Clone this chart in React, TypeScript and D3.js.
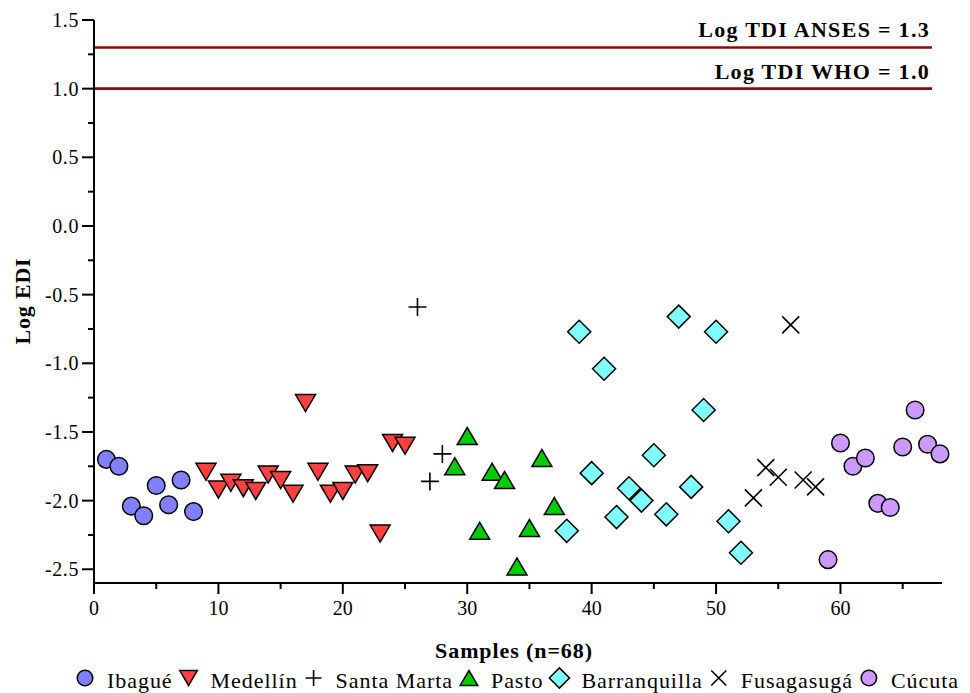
import React, { useEffect, useRef } from "react";
import * as d3 from "d3";

// Log EDI per sample, grouped by city (samples numbered 1..68 in order)
const ibague = [-1.7, -1.75, -2.04, -2.11, -1.89, -2.03, -1.85, -2.08];
const medellin = [
  -1.79, -1.92, -1.87, -1.91, -1.93, -1.81, -1.85, -1.95, -1.29, -1.79, -1.95,
  -1.93, -1.81, -1.8, -2.24, -1.58, -1.6,
];
const santaMarta = [-0.59, -1.86, -1.66];
const pasto = [-1.75, -1.53, -2.22, -1.79, -1.85, -2.48, -2.2, -1.69, -2.04];
const barranquilla = [
  -2.22, -0.77, -1.8, -1.04, -2.12, -1.91, -2.0, -1.67, -2.1, -0.66, -1.9,
  -1.34, -0.77, -2.15, -2.38,
];
const fusagasuga = [-1.98, -1.76, -1.83, -0.72, -1.85, -1.9];
const cucuta = [-2.43, -1.58, -1.75, -1.69, -2.02, -2.05, -1.61, -1.34, -1.59, -1.66];

const cities = ["Ibagué", "Medellín", "Santa Marta", "Pasto", "Barranquilla", "Fusagasugá", "Cúcuta"];
const cityValues = [ibague, medellin, santaMarta, pasto, barranquilla, fusagasuga, cucuta];
const cityColors = ["#8080ff", "#ff4040", "none", "#00cc00", "#80ffff", "none", "#cc99ff"];
const cityShapes = ["circle", "triDown", "plus", "triUp", "diamond", "cross", "circle"];

const xMajor = [0, 10, 20, 30, 40, 50, 60];
const xMinor = [5, 15, 25, 35, 45, 55, 65];
const yMajor = [-2.5, -2.0, -1.5, -1.0, -0.5, 0.0, 0.5, 1.0, 1.5];
const yMinor = [-2.25, -1.75, -1.25, -0.75, -0.25, 0.25, 0.75, 1.25];

const refLabels = ["Log TDI ANSES = 1.3", "Log TDI WHO = 1.0"];
const refValues = [1.3, 1.0];

const FONT = "'Liberation Serif', 'Times New Roman', serif";

// marker outline, centred on its bounding box; k scales it
function shapePath(kind, k) {
  const p = d3.path();
  if (kind === "circle") {
    p.arc(0, 0, 8.8 * k, 0, Math.PI * 2);
  } else if (kind === "triDown") {
    p.moveTo(-10 * k, -8.5 * k);
    p.lineTo(10 * k, -8.5 * k);
    p.lineTo(0, 8.5 * k);
    p.closePath();
  } else if (kind === "triUp") {
    p.moveTo(-10 * k, 8.5 * k);
    p.lineTo(10 * k, 8.5 * k);
    p.lineTo(0, -8.5 * k);
    p.closePath();
  } else if (kind === "diamond") {
    const r = 11.5 * k;
    p.moveTo(0, -r);
    p.lineTo(r, 0);
    p.lineTo(0, r);
    p.lineTo(-r, 0);
    p.closePath();
  } else if (kind === "plus") {
    const r = 9 * k;
    p.moveTo(-r, 0);
    p.lineTo(r, 0);
    p.moveTo(0, -r);
    p.lineTo(0, r);
  } else {
    const r = 8.5 * k;
    p.moveTo(-r, -r);
    p.lineTo(r, r);
    p.moveTo(-r, r);
    p.lineTo(r, -r);
  }
  return p.toString();
}

const App = () => {
  const svgRef = useRef(null);

  useEffect(() => {
    const svg = d3.select(svgRef.current);
    svg.selectAll("*").remove();

    const x = d3.scaleLinear().domain([0, 68]).range([94, 940]);
    const y = d3.scaleLinear().domain([-2.6, 1.5]).range([583, 20]);

    // reference lines
    refValues.forEach((v, i) => {
      svg
        .append("line")
        .attr("x1", x(0))
        .attr("x2", 932)
        .attr("y1", y(v))
        .attr("y2", y(v))
        .attr("stroke", "#8b0a0a")
        .attr("stroke-width", 2.6);
      svg
        .append("text")
        .attr("x", 930)
        .attr("y", y(v) - 10)
        .attr("text-anchor", "end")
        .attr("font-family", FONT)
        .attr("font-weight", "bold")
        .attr("font-size", 22)
        .attr("letter-spacing", 1.3)
        .text(refLabels[i]);
    });

    // axes
    const axes = svg.append("g").attr("stroke", "#000").attr("stroke-width", 2);
    axes.append("line").attr("x1", x(0)).attr("x2", 942).attr("y1", y(-2.6)).attr("y2", y(-2.6));
    axes.append("line").attr("x1", x(0)).attr("x2", x(0)).attr("y1", y(-2.6) + 1).attr("y2", y(1.5));
    xMajor.forEach((t) =>
      axes.append("line").attr("x1", x(t)).attr("x2", x(t)).attr("y1", y(-2.6)).attr("y2", y(-2.6) + 11)
    );
    xMinor.forEach((t) =>
      axes.append("line").attr("x1", x(t)).attr("x2", x(t)).attr("y1", y(-2.6)).attr("y2", y(-2.6) + 6)
    );
    yMajor.forEach((t) =>
      axes.append("line").attr("x1", x(0) - 12).attr("x2", x(0)).attr("y1", y(t)).attr("y2", y(t))
    );
    yMinor.forEach((t) =>
      axes.append("line").attr("x1", x(0) - 6).attr("x2", x(0)).attr("y1", y(t)).attr("y2", y(t))
    );

    svg
      .append("g")
      .selectAll("text")
      .data(xMajor)
      .join("text")
      .attr("x", (d) => x(d))
      .attr("y", 615)
      .attr("text-anchor", "middle")
      .attr("font-family", FONT)
      .attr("font-size", 20)
      .text((d) => d);

    svg
      .append("g")
      .selectAll("text")
      .data(yMajor)
      .join("text")
      .attr("x", x(0) - 15)
      .attr("y", (d) => y(d) + 7)
      .attr("text-anchor", "end")
      .attr("font-family", FONT)
      .attr("font-size", 20)
      .attr("letter-spacing", 0.6)
      .text((d) => d.toFixed(1));

    // axis titles
    svg
      .append("text")
      .attr("x", 514)
      .attr("y", 658)
      .attr("text-anchor", "middle")
      .attr("font-family", FONT)
      .attr("font-weight", "bold")
      .attr("font-size", 22)
      .attr("letter-spacing", 0.9)
      .text("Samples (n=68)");
    svg
      .append("text")
      .attr("transform", "translate(30,301) rotate(-90)")
      .attr("text-anchor", "middle")
      .attr("font-family", FONT)
      .attr("font-weight", "bold")
      .attr("font-size", 22)
      .attr("letter-spacing", 0.8)
      .text("Log EDI");

    // points
    let n = 0;
    cities.forEach((city, ci) => {
      const pts = cityValues[ci].map((v) => {
        n += 1;
        return { sample: n, value: v };
      });
      const lineOnly = cityShapes[ci] === "plus" || cityShapes[ci] === "cross";
      svg
        .append("g")
        .selectAll("path")
        .data(pts)
        .join("path")
        .attr("transform", (d) => `translate(${x(d.sample)},${y(d.value)})`)
        .attr("d", shapePath(cityShapes[ci], 1))
        .attr("fill", cityColors[ci])
        .attr("stroke", "#000")
        .attr("stroke-width", lineOnly ? 1.6 : 1.5)
        .attr("stroke-linejoin", "miter");
    });

    // legend
    const legend = svg.append("g");
    let cx = 85;
    cities.forEach((city, ci) => {
      const lineOnly = cityShapes[ci] === "plus" || cityShapes[ci] === "cross";
      legend
        .append("path")
        .attr("transform", `translate(${cx},678)`)
        .attr("d", shapePath(cityShapes[ci], 0.88))
        .attr("fill", cityColors[ci])
        .attr("stroke", "#000")
        .attr("stroke-width", lineOnly ? 1.6 : 1.5);
      const t = legend
        .append("text")
        .attr("x", cx + 22)
        .attr("y", 688)
        .attr("font-family", FONT)
        .attr("font-size", 22)
        .attr("letter-spacing", 0.95)
        .text(city);
      const w = t.node().getComputedTextLength();
      cx = cx + 22 + w + 16;
    });
  });

  return (
    <svg
      ref={svgRef}
      width={970}
      height={693}
      style={{ position: "absolute", left: 0, top: 0, background: "#fff" }}
    />
  );
};

export default App;
